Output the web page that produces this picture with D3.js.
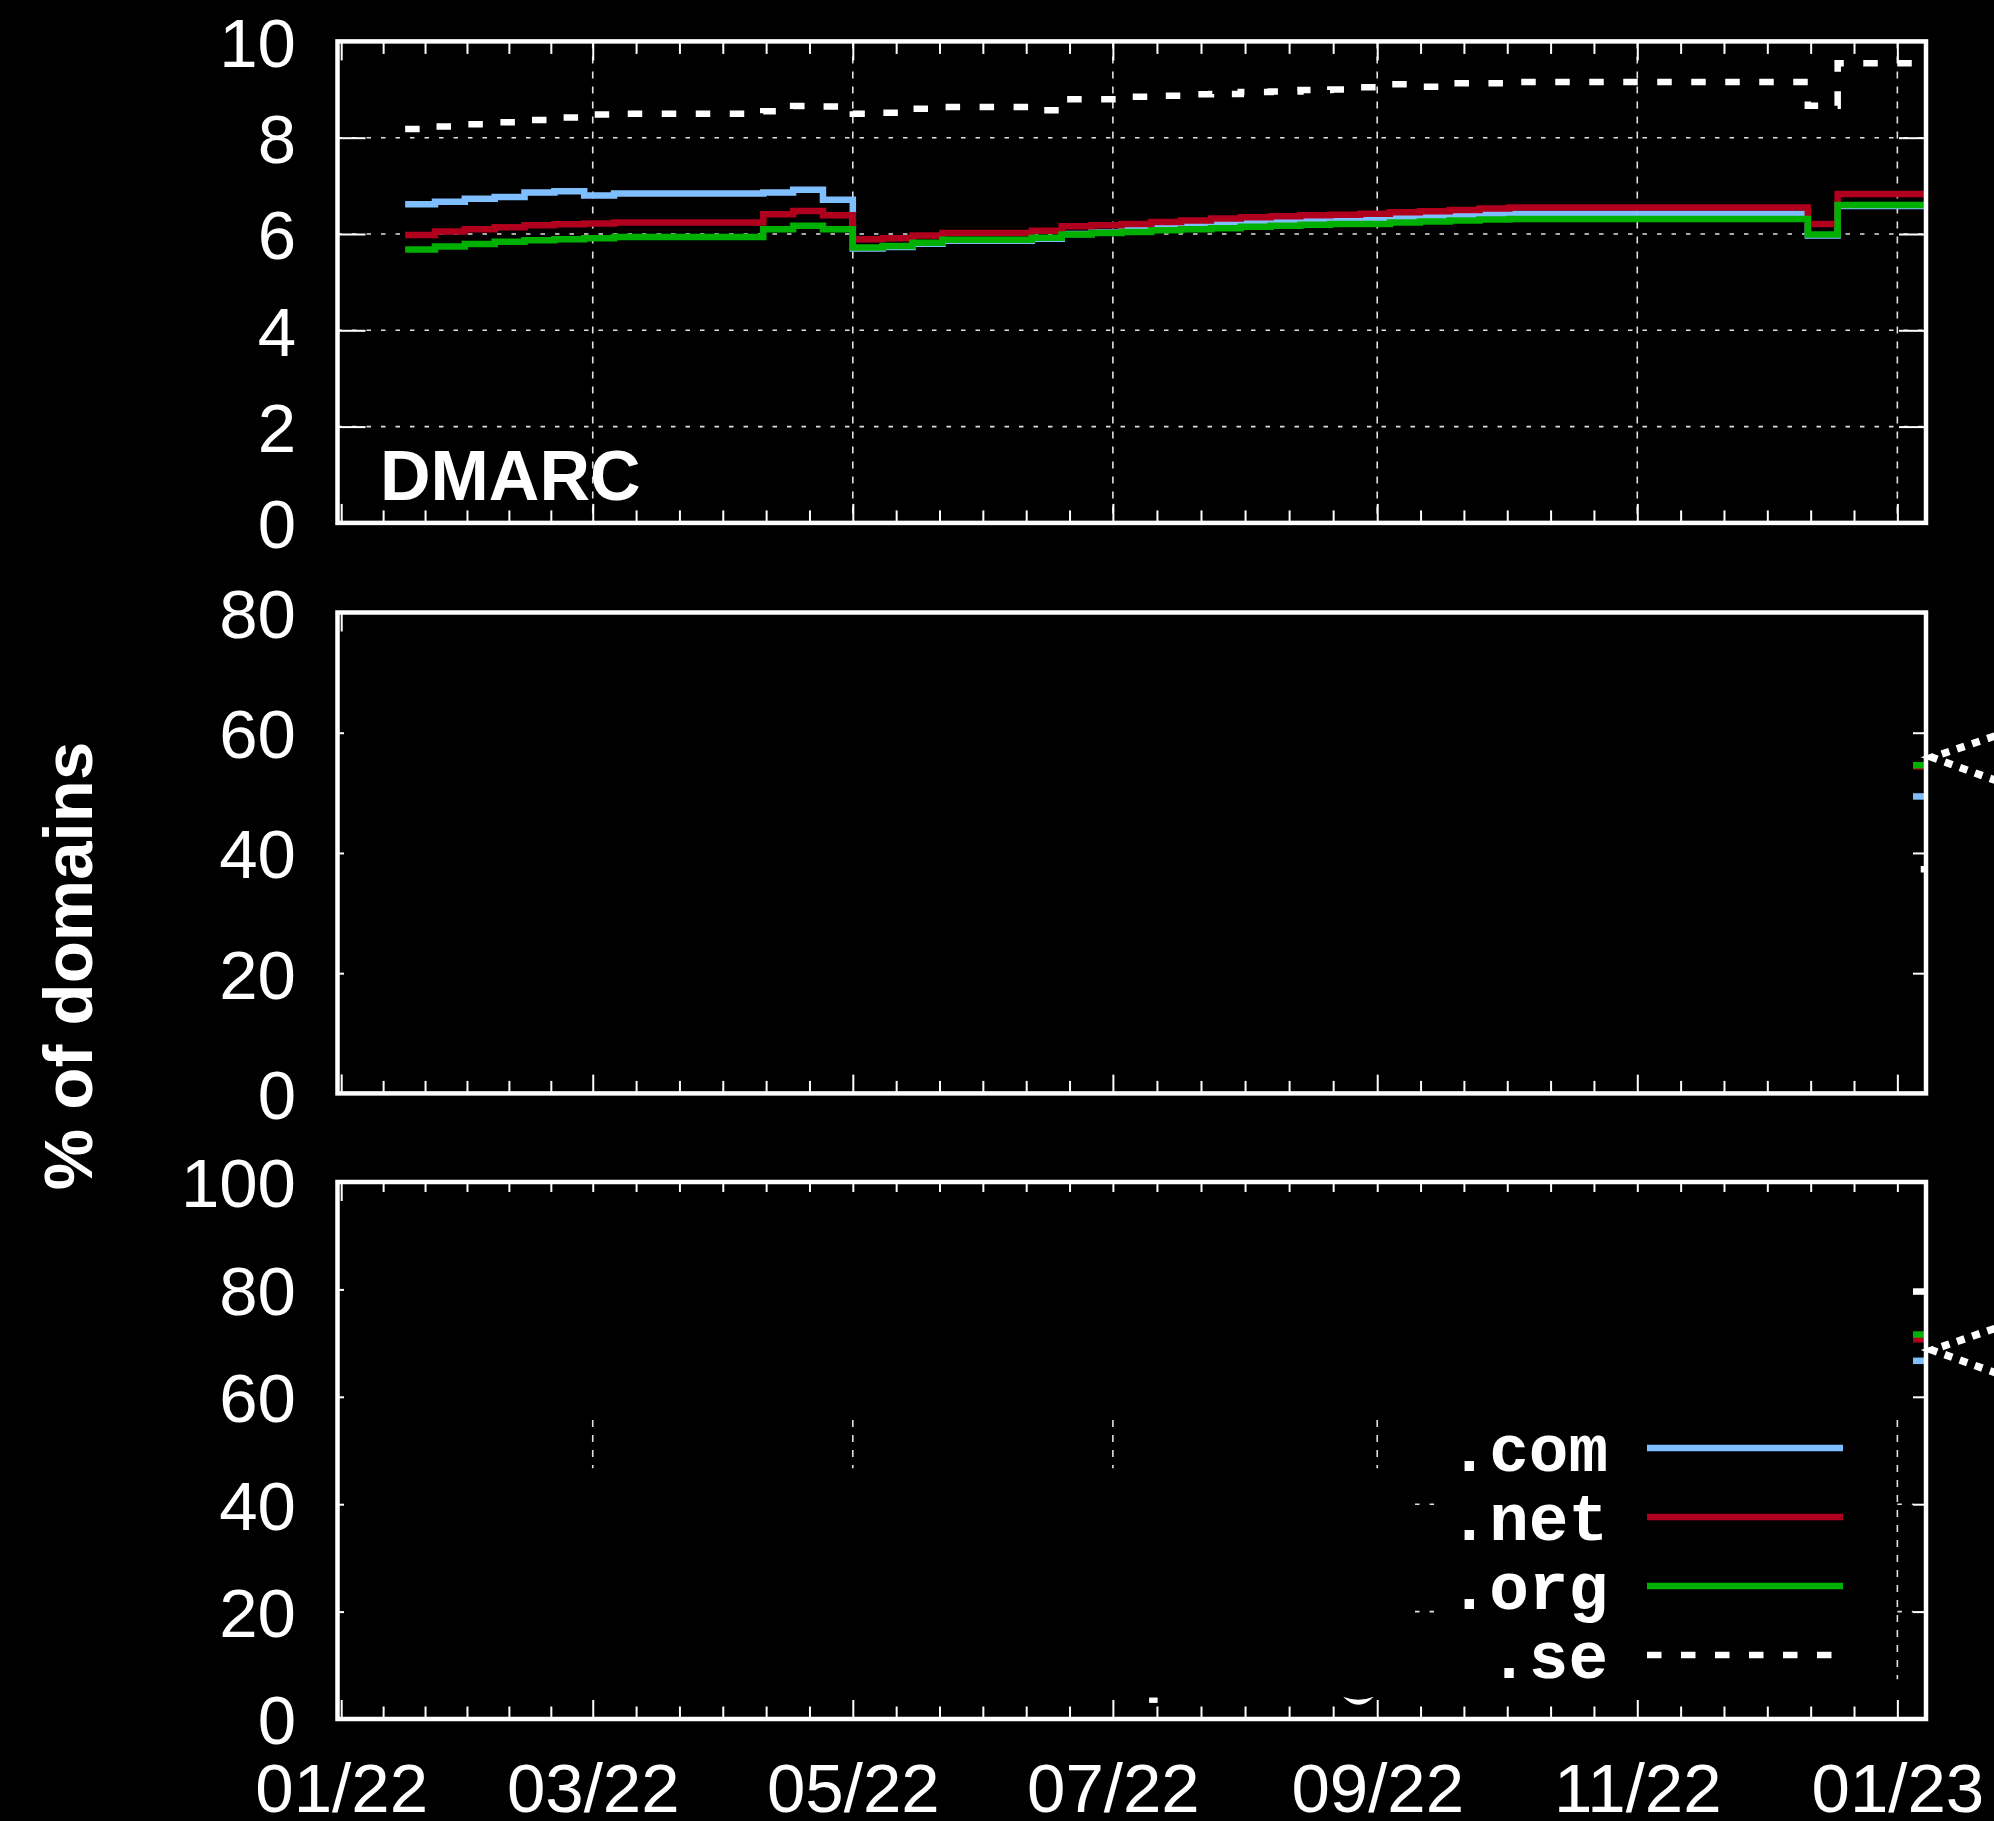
<!DOCTYPE html>
<html>
<head>
<meta charset="utf-8">
<script src="https://cdn.jsdelivr.net/npm/d3@7"></script>
<style>
  html, body { margin: 0; background: #000; }
  svg { display: block; }
</style>
</head>
<body>
<div id="chart"></div>
<script>
// weekly samples (Sundays)
const weeks = ["2022-01-16","2022-01-23","2022-01-30","2022-02-06","2022-02-13","2022-02-20","2022-02-27",
  "2022-03-06","2022-03-13","2022-03-20","2022-03-27","2022-04-03","2022-04-10","2022-04-17","2022-04-24",
  "2022-05-01","2022-05-08","2022-05-15","2022-05-22","2022-05-29","2022-06-05","2022-06-12","2022-06-19",
  "2022-06-26","2022-07-03","2022-07-10","2022-07-17","2022-07-24","2022-07-31","2022-08-07","2022-08-14",
  "2022-08-21","2022-08-28","2022-09-04","2022-09-11","2022-09-18","2022-09-25","2022-10-02","2022-10-09",
  "2022-10-16","2022-10-23","2022-10-30","2022-11-06","2022-11-13","2022-11-20","2022-11-27","2022-12-04",
  "2022-12-11","2022-12-18","2022-12-25","2023-01-01","2023-01-08"];

// DMARC panel, % of domains
const comVals = [6.62,6.67,6.73,6.77,6.86,6.89,6.80,6.84,6.84,6.84,6.84,6.84,6.86,6.92,6.71,
  5.70,5.73,5.80,5.86,5.86,5.86,5.90,6.00,6.03,6.12,6.16,6.19,6.22,6.25,6.27,6.29,6.31,6.32,6.35,6.37,6.39,6.41,
  6.42,6.42,6.42,6.42,6.42,6.42,6.42,6.42,6.42,6.42,5.97,6.58,6.58,6.58,6.58];
const netVals = [5.98,6.05,6.10,6.14,6.18,6.20,6.22,6.24,6.24,6.24,6.24,6.24,6.41,6.48,6.39,
  5.89,5.91,5.97,6.02,6.02,6.02,6.07,6.16,6.18,6.21,6.25,6.28,6.32,6.35,6.37,6.39,6.40,6.42,6.45,6.47,6.50,6.53,
  6.55,6.55,6.55,6.55,6.55,6.55,6.55,6.55,6.55,6.55,6.21,6.83,6.83,6.83,6.83];
const orgVals = [5.68,5.74,5.79,5.84,5.87,5.89,5.91,5.94,5.94,5.94,5.94,5.94,6.10,6.17,6.10,
  5.72,5.75,5.82,5.88,5.88,5.88,5.92,5.99,6.02,6.04,6.08,6.10,6.12,6.15,6.17,6.19,6.21,6.21,6.24,6.26,6.28,6.30,
  6.31,6.31,6.31,6.31,6.31,6.31,6.31,6.31,6.31,6.31,5.99,6.60,6.60,6.60,6.60];
const seVals = [8.18,8.235,8.28,8.32,8.37,8.42,8.48,8.50,8.50,8.50,8.50,8.50,8.55,8.66,8.65,
  8.50,8.52,8.60,8.64,8.64,8.64,8.57,8.80,8.80,8.85,8.87,8.90,8.91,8.95,8.96,8.99,9.00,9.05,9.11,9.06,9.13,9.13,
  9.155,9.155,9.155,9.155,9.155,9.155,9.155,9.155,9.155,9.155,8.665,9.545,9.545,9.545,9.545];

const tlds = [".com", ".net", ".org", ".se"];
const tldColors = ["#80bfff", "#b0001e", "#00b000", "#ffffff"];

// last values still visible at the right edge of the two lower panels (com, net, org, se)
const midLast = [49.4, 54.4, 54.6, 37.3];
const botLast = [66.7, 70.7, 71.6, 79.6];

// dotted strokes leaving the lower panels on the right: [date, value]
const midChevron = [["2023-01-27T10:00:00Z", 60.3], ["2023-01-09T03:00:00Z", 55.9], ["2023-01-27T10:00:00Z", 51.2]];
const botChevron = [["2023-01-27T10:00:00Z", 73.7], ["2023-01-09T03:00:00Z", 68.7], ["2023-01-27T10:00:00Z", 63.5]];

// grid pieces that show through in the bottom panel
const botGridV = [["2022-03-01", 46.7, 55.7], ["2022-05-01", 46.7, 55.7], ["2022-07-01", 46.7, 55.7],
  ["2022-09-01", 46.7, 55.7], ["2023-01-01", 7.4, 55.7]];
const botGridH = [[40, "2022-09-09T21:00:00Z", "2022-09-14T19:00:00Z"], [20, "2022-09-09T21:00:00Z", "2022-09-14T19:00:00Z"],
  [40, "2023-01-01", "2023-01-04T16:00:00Z"], [20, "2023-01-01", "2023-01-04T16:00:00Z"]];

const monthTicks = ["2022-01-01","2022-03-01","2022-05-01","2022-07-01","2022-09-01","2022-11-01","2023-01-01"];
const topYTicks = [0, 2, 4, 6, 8, 10];
const midYTicks = [0, 20, 40, 60, 80];
const botYTicks = [0, 20, 40, 60, 80, 100];

const width = 1994, height = 1821;
const left = 337.5, right = 1926;
const sansFont = "'Liberation Sans', Arial, Helvetica, sans-serif";
const monoFont = "'Courier New', 'Liberation Mono', monospace";

const svg = d3.select("#chart").append("svg")
  .attr("width", width).attr("height", height)
  .style("background", "#000");

const parse = s => new Date(s);

const x = d3.scaleUtc()
  .domain([parse("2021-12-31T03:10:00Z"), parse("2023-01-07T17:15:00Z")])
  .range([left, right]);

const majorX = monthTicks.map(parse);
const minorX = [];
for (let i = 0; i < majorX.length - 1; i++) {
  const a = +majorX[i], b = +majorX[i + 1];
  for (let j = 1; j < 6; j++) minorX.push(new Date(a + (b - a) * j / 6));
}

const panels = [
  {name: "top", top: 41.4, bottom: 522.9, max: 10, ticks: topYTicks},
  {name: "mid", top: 612.5, bottom: 1093.4, max: 80, ticks: midYTicks},
  {name: "bot", top: 1182, bottom: 1719, max: 100, ticks: botYTicks}
];
panels.forEach(p => {
  p.y = d3.scaleLinear().domain([0, p.max]).range([p.bottom, p.top]);
});

function styleTicks(g) {
  g.select(".domain").remove();
  g.selectAll(".tick line").attr("stroke", "#fff").attr("stroke-width", 2);
}

function drawTicks(p, withTop) {
  const g = svg.append("g");
  g.append("g").attr("transform", `translate(0,${p.bottom})`)
    .call(d3.axisBottom(x).tickValues(majorX).tickSize(-19).tickFormat(""))
    .call(styleTicks);
  g.append("g").attr("transform", `translate(0,${p.bottom})`)
    .call(d3.axisBottom(x).tickValues(minorX).tickSize(-12.5).tickFormat(""))
    .call(styleTicks);
  if (withTop) {
    g.append("g").attr("transform", `translate(0,${p.top})`)
      .call(d3.axisTop(x).tickValues(majorX).tickSize(-19).tickFormat(""))
      .call(styleTicks);
    g.append("g").attr("transform", `translate(0,${p.top})`)
      .call(d3.axisTop(x).tickValues(minorX).tickSize(-12.5).tickFormat(""))
      .call(styleTicks);
  }
  g.append("g").attr("transform", `translate(${left},0)`)
    .call(d3.axisLeft(p.y).tickValues(p.ticks).tickSize(-28).tickFormat(""))
    .call(styleTicks);
  g.append("g").attr("transform", `translate(${right},0)`)
    .call(d3.axisRight(p.y).tickValues(p.ticks).tickSize(-27).tickFormat(""))
    .call(styleTicks);

  // y tick labels
  g.append("g").attr("transform", `translate(${left},0)`)
    .call(d3.axisLeft(p.y).tickValues(p.ticks).tickSize(0).tickPadding(41.5))
    .call(a => a.select(".domain").remove())
    .call(a => a.selectAll("text")
      .attr("fill", "#fff").attr("dy", "0.36em")
      .style("font-family", sansFont).style("font-size", "69px"));
}

function drawFrame(p) {
  svg.append("rect")
    .attr("x", left).attr("y", p.top)
    .attr("width", right - left).attr("height", p.bottom - p.top)
    .attr("fill", "none").attr("stroke", "#fff").attr("stroke-width", 4.5);
}

function stepLine(p) {
  return d3.line()
    .x(d => x(d[0]))
    .y(d => p.y(d[1]))
    .curve(d3.curveStepAfter);
}

function styleSeries(path, i) {
  path.attr("fill", "none")
    .attr("stroke", tldColors[i])
    .attr("stroke-width", 6.5);
  if (tlds[i] === ".se") path.attr("stroke-dasharray", "14.5,19.5");
}

// ---------- top panel (DMARC) ----------
const pTop = panels[0];
const grid = svg.append("g").attr("stroke", "#e0e0e0").attr("stroke-width", 1.6);
grid.selectAll("line.h")
  .data(topYTicks.filter(v => v > 0 && v < 10))
  .join("line")
  .attr("x1", left).attr("x2", right)
  .attr("y1", d => pTop.y(d)).attr("y2", d => pTop.y(d))
  .attr("stroke-dasharray", "4.5,10");
grid.selectAll("line.v")
  .data(majorX.slice(1))
  .join("line")
  .attr("x1", d => x(d)).attr("x2", d => x(d))
  .attr("y1", pTop.top).attr("y2", pTop.bottom)
  .attr("stroke-dasharray", "7,8");

drawTicks(pTop, true);

const topSeries = [comVals, netVals, orgVals, seVals];
const lineTop = stepLine(pTop);
topSeries.forEach((vals, i) => {
  svg.append("path")
    .attr("d", lineTop(weeks.map((w, k) => [parse(w), vals[k]])))
    .call(styleSeries, i);
});
drawFrame(pTop);

svg.append("text")
  .attr("x", 380).attr("y", 500)
  .attr("fill", "#fff")
  .style("font-family", sansFont).style("font-weight", "bold").style("font-size", "70px")
  .text("DMARC");

// ---------- lower panels ----------
function drawLower(p, lastVals, seOffset, chevron, maskTop) {
  drawTicks(p, true);
  const line = stepLine(p);
  lastVals.forEach((v, i) => {
    const path = svg.append("path")
      .attr("d", line([[parse(weeks[50]), v], [parse(weeks[51]), v]]))
      .call(styleSeries, i);
    if (tlds[i] === ".se") path.attr("stroke-dashoffset", seOffset);
  });
  // everything inside the frame is blanked out except a thin strip at the edges
  svg.append("rect")
    .attr("x", left + 6.5).attr("y", maskTop)
    .attr("width", 1913 - left - 6.5).attr("height", p.bottom - 19 - maskTop)
    .attr("fill", "#000");
  drawFrame(p);

  const chev = d3.line().x(d => x(parse(d[0]))).y(d => p.y(d[1]));
  svg.append("path")
    .attr("d", chev(chevron))
    .attr("fill", "none").attr("stroke", "#fff")
    .attr("stroke-width", 7.5).attr("stroke-dasharray", "8,8");
}

const pMid = panels[1], pBot = panels[2];
drawLower(pMid, midLast, 10.6, midChevron, pMid.top);
drawLower(pBot, botLast, 18.5, botChevron, pBot.top + 10);

const gBot = svg.append("g").attr("stroke", "#e0e0e0").attr("stroke-width", 1.6);
gBot.selectAll("line.v")
  .data(botGridV)
  .join("line")
  .attr("x1", d => x(parse(d[0]))).attr("x2", d => x(parse(d[0])))
  .attr("y1", d => pBot.y(d[2])).attr("y2", d => pBot.y(d[1]))
  .attr("stroke-dasharray", "7,8");
gBot.selectAll("line.h")
  .data(botGridH)
  .join("line")
  .attr("x1", d => x(parse(d[1]))).attr("x2", d => x(parse(d[2])))
  .attr("y1", d => pBot.y(d[0])).attr("y2", d => pBot.y(d[0]))
  .attr("stroke-dasharray", "4.5,10");

// small leftovers near the bottom edge
svg.append("rect")
  .attr("x", x(parse("2022-07-09T12:00:00Z"))).attr("y", pBot.y(4.0))
  .attr("width", 8.5).attr("height", pBot.y(3.0) - pBot.y(4.0))
  .attr("fill", "#fff");
{
  const x1 = x(parse("2022-08-24")), x2 = x(parse("2022-08-31T04:00:00Z"));
  const yt = pBot.y(4.15);
  svg.append("path")
    .attr("d", `M${x1},${yt} Q${(x1 + x2) / 2},${yt + 16} ${x2},${yt} Q${(x1 + x2) / 2},${yt + 6} ${x1},${yt}Z`)
    .attr("fill", "#fff");
}

// x tick labels under the bottom panel
svg.append("g").attr("transform", `translate(0,${pBot.bottom})`)
  .call(d3.axisBottom(x).tickValues(majorX).tickSize(0).tickPadding(44).tickFormat(d3.utcFormat("%m/%y")))
  .call(a => a.select(".domain").remove())
  .call(a => a.selectAll("text")
    .attr("fill", "#fff")
    .style("font-family", sansFont).style("font-size", "69px"));

// y axis title
svg.append("text")
  .attr("transform", "translate(92,966) rotate(-90)")
  .attr("text-anchor", "middle")
  .attr("fill", "#fff")
  .style("font-family", sansFont).style("font-weight", "bold").style("font-size", "69px")
  .text("% of domains");

// legend
const legend = svg.append("g")
  .selectAll("g")
  .data(tlds)
  .join("g")
  .attr("transform", (d, i) => `translate(0,${1471 + i * 69})`);
legend.append("text")
  .attr("x", 1608).attr("text-anchor", "end")
  .attr("fill", "#fff")
  .style("font-family", monoFont).style("font-weight", "bold").style("font-size", "66px")
  .text(d => d);
legend.append("line")
  .attr("x1", 1647).attr("x2", 1843)
  .attr("y1", -23).attr("y2", -23)
  .each(function(d, i) { d3.select(this).call(styleSeries, i); });
</script>
</body>
</html>
